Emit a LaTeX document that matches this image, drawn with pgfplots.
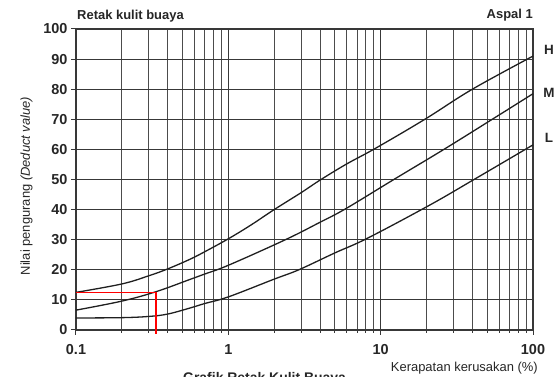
\documentclass[border=0pt]{standalone}
\usepackage{fontspec}
\setmainfont{Liberation Sans}
\usepackage{pgfplots}
\pgfplotsset{compat=1.18}
\begin{document}
\begin{tikzpicture}
\begin{axis}[
  at={(0,0)}, anchor=south west,
  scale only axis, width=457bp, height=301bp,
  xmode=log, log basis x=10,
  xmin=0.1, xmax=100, ymin=0, ymax=100,
  xtick={0.1,1,10,100}, xticklabels={0.1,1,10,100},
  minor xtick={0.2,0.3,0.4,0.5,0.6,0.7,0.8,0.9,2,3,4,5,6,7,8,9,20,30,40,50,60,70,80,90},
  ytick={0,10,20,30,40,50,60,70,80,90,100},
  grid=both,
  major grid style={black!78, line width=1.1bp},
  minor grid style={black!70, line width=1bp},
  axis line style={black!78, line width=1.1bp},
  tick pos=left, tick align=outside,
  major tick length=5bp, minor tick length=3bp,
  tick style={black!78, line width=1bp},
  /pgf/number format/assume math mode=true,
  ticklabel style={font=\bfseries\fontsize{14.5}{16}\selectfont, text=black!85},
  xticklabel style={yshift=-6bp},
  clip=false,
]
% H
\addplot[black!88, line width=1.3bp, smooth, tension=0.6] coordinates {
  (0.1,12.5) (0.2,15.3) (0.3,18) (0.4,20.3) (0.56,23.5) (0.7,26) (1,30.3)
  (1.4,34.8) (2,40) (3,45.6) (4,49.8) (6,55.2) (9.2,60.3) (19.5,70) (40,80) (100,91)};
% M
\addplot[black!88, line width=1.3bp, smooth, tension=0.6] coordinates {
  (0.1,6.6) (0.2,9.6) (0.334,12.7) (0.56,16.8) (0.7,18.6) (1,21.5)
  (2.37,30) (4,35.8) (5.9,40.3) (12.2,50) (26,60) (54,70) (100,78.5)};
% L
\addplot[black!88, line width=1.3bp, smooth, tension=0.6] coordinates {
  (0.1,4) (0.2,4.1) (0.3,4.5) (0.4,5.3) (0.56,7.3) (0.7,8.8) (1,11)
  (2,16.9) (2.9,20) (5,25.6) (8.2,30.5) (21,41.5) (41,50) (100,61.5)};
% red reading line
\addplot[red, line width=1.6bp] coordinates {(0.1,12.5) (0.334,12.5) (0.334,-1.2)};
\end{axis}
\node[anchor=base west, inner sep=0, text=black!85, font=\bfseries\fontsize{13}{15}\selectfont] at (1bp,310bp) {Retak kulit buaya};
\node[anchor=base east, inner sep=0, text=black!85, font=\bfseries\fontsize{13}{15}\selectfont] at (457bp,311bp) {Aspal 1};
\node[anchor=base east, inner sep=0, text=black!85, font=\fontsize{13}{15}\selectfont] at (462bp,-41bp) {Kerapatan kerusakan (\%)};
\node[rotate=90, inner sep=0, text=black!85, font=\fontsize{13}{15}\selectfont] at (-49.5bp,144bp) {Nilai pengurang \textit{(Deduct value)}};
\node[inner sep=0, text=black!85, font=\bfseries\fontsize{13.5}{15}\selectfont] at (473bp,280bp) {H};
\node[inner sep=0, text=black!85, font=\bfseries\fontsize{13.5}{15}\selectfont] at (473bp,237.5bp) {M};
\node[inner sep=0, text=black!85, font=\bfseries\fontsize{13.5}{15}\selectfont] at (473bp,192.5bp) {L};
\node[anchor=base west, inner sep=0, text=black!85, font=\bfseries\fontsize{14}{16}\selectfont] at (107bp,-52bp) {Grafik Retak Kulit Buaya};
\pgfresetboundingbox
\path[use as bounding box] (-76bp,-47bp) rectangle (480bp,330bp);
\end{tikzpicture}
\end{document}
